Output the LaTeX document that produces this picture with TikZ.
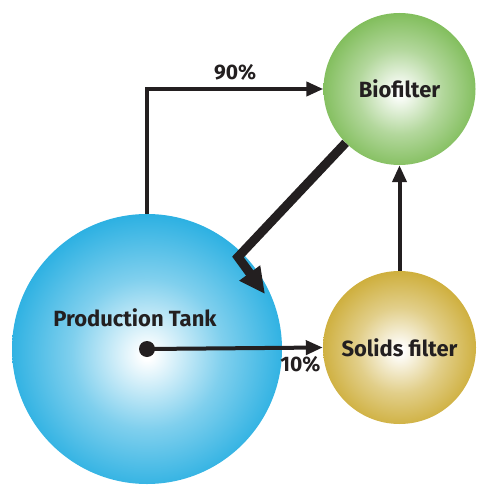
\documentclass[tikz,border=0pt]{standalone}
\usepackage{fontspec}
\setmainfont{Fira Sans}
\usetikzlibrary{arrows.meta}

\definecolor{ink}{HTML}{231F20}
\definecolor{tankblue}{HTML}{00A0DC}
\definecolor{biogreen}{HTML}{67B03A}
\definecolor{solidgold}{HTML}{C49E14}

\pgfdeclareradialshading{tankshade}{\pgfpoint{0bp}{-1bp}}{color(0bp)=(white); color(1bp)=(white); color(14bp)=(tankblue!50); color(32bp)=(tankblue); color(100bp)=(tankblue)}
\pgfdeclareradialshading{bioshade}{\pgfpoint{0bp}{-1bp}}{color(0bp)=(white); color(1bp)=(white); color(14bp)=(biogreen!50); color(32bp)=(biogreen); color(100bp)=(biogreen)}
\pgfdeclareradialshading{solidshade}{\pgfpoint{0bp}{-1bp}}{color(0bp)=(white); color(1bp)=(white); color(14bp)=(solidgold!50); color(32bp)=(solidgold); color(100bp)=(solidgold)}

\tikzset{
  vessel/.style={circle, inner sep=0pt, text=ink, font=\fontsize{22}{26}\selectfont\bfseries},
  pct/.style={text=ink, font=\fontsize{21}{25}\selectfont\bfseries},
  flow/.style={draw=ink, line width=4pt, -{Triangle[length=17pt,width=14pt]}},
  mainflow/.style={draw=ink, line width=9pt, miter limit=4, -{Triangle[length=26pt,width=24pt]}}
}

\begin{document}
\begin{tikzpicture}[x=1pt, y=-1pt]
            \useasboundingbox (0,0) rectangle (491,494);%

            % Marking the three vessels
            \node [vessel, shading=tankshade, minimum size=270pt,
                   label={[text=ink, font=\fontsize{22}{26}\selectfont\bfseries, xshift=-12pt, yshift=31pt]center:Production Tank}]
                  (tank) at (147,349) {};%
            \node [vessel, shading=bioshade, minimum size=152pt] (bio) at (399.5,89) {Biofilter};%
            \node [vessel, shading=solidshade, minimum size=153pt] (solids) at (399.5,347.5) {Solids filter};%

            % Marking the outlet point of the tank
            \node [circle, fill=ink, inner sep=0pt, minimum size=16pt] (outlet) at (tank.center) {};%

            % Drawing flow tank -> biofilter
            \draw [flow] (tank.north) |- (bio.west) node [pct, pos=0.75, above=3pt] {90\%};%

            % Drawing flow tank -> solids filter
            \draw [flow] (outlet.center) -- (solids.west) node [pct, pos=1, anchor=north east, xshift=3pt, yshift=-4pt] {10\%};%

            % Drawing flow solids filter -> biofilter
            \draw [flow] (solids.north) -- (bio.south);%

            % Drawing return flow biofilter -> tank
            \coordinate (bend) at (238,257);%
            \coordinate (inlet) at (265,294);%
            \draw [mainflow] (bio.225) -- (bend) -- (inlet);%
\end{tikzpicture}
\end{document}
